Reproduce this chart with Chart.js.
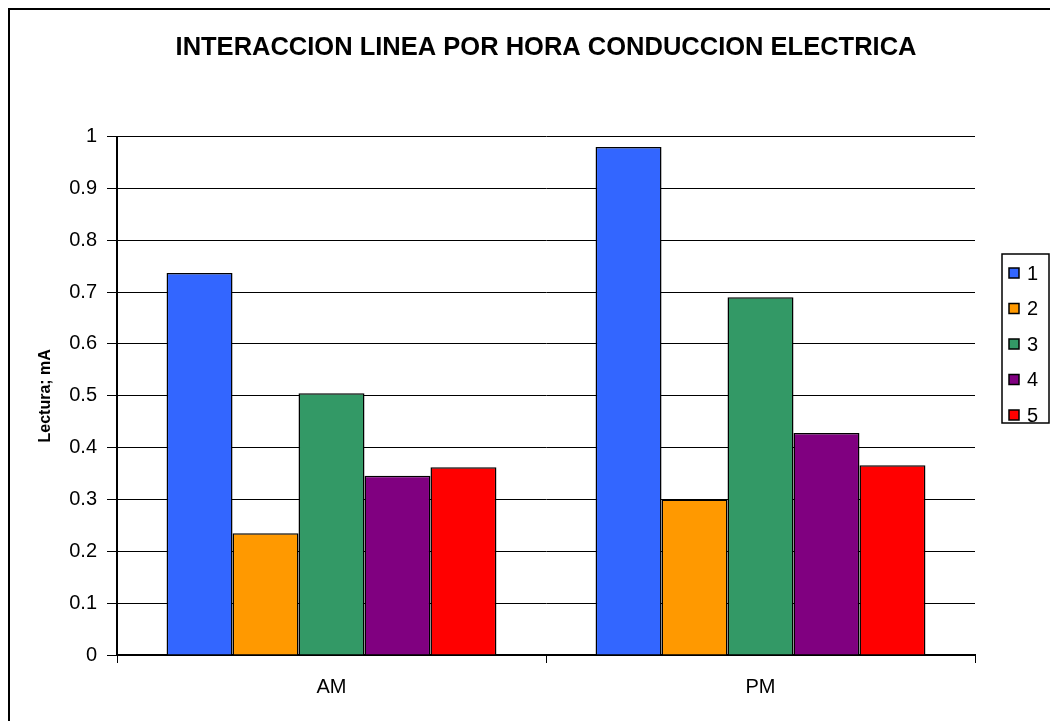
<!DOCTYPE html>
<html>
<head>
<meta charset="utf-8">
<script src="https://cdn.jsdelivr.net/npm/chart.js@4/dist/chart.umd.min.js"></script>
<style>
  html, body { margin: 0; padding: 0; background: #fff; overflow: hidden; }
  #wrap { position: relative; width: 1050px; height: 721px; }
  #frame { position: absolute; left: 8px; top: 8px; width: 1100px; height: 800px; border: 2px solid #000; box-sizing: border-box; }
  canvas { position: absolute; left: 0; top: 0; }
</style>
</head>
<body>
<div id="wrap">
  <div id="frame"></div>
  <canvas id="chart" width="1050" height="721"></canvas>
</div>
<script>
// values
const categories = ['AM', 'PM'];
const seriesNames = ['1', '2', '3', '4', '5'];
const serie1 = [0.737, 0.980];
const serie2 = [0.235, 0.300];
const serie3 = [0.505, 0.690];
const serie4 = [0.346, 0.428];
const serie5 = [0.362, 0.366];
const yTickLabels = ['0', '0.1', '0.2', '0.3', '0.4', '0.5', '0.6', '0.7', '0.8', '0.9', '1'];
const yMin = 0, yMax = 1, yStep = 0.1;

const colors = ['#3366FF', '#FF9900', '#339966', '#800080', '#FF0000'];
const FONT = "'Liberation Sans', Arial, sans-serif";

const allSeries = [serie1, serie2, serie3, serie4, serie5];

// Excel-like boxed legend, drawn on the right
const boxLegend = {
  id: 'boxLegend',
  afterDraw(chart) {
    const ctx = chart.ctx;
    const x0 = 1002, y0 = 254, w = 47, h = 169;
    ctx.save();
    ctx.strokeStyle = '#000';
    ctx.lineWidth = 1.5;
    ctx.strokeRect(x0, y0, w, h);
    ctx.font = '20px ' + FONT;
    ctx.textBaseline = 'middle';
    ctx.textAlign = 'left';
    chart.data.datasets.forEach((ds, i) => {
      const cy = y0 + 19 + i * 35.5;
      ctx.fillStyle = ds.backgroundColor;
      ctx.fillRect(1009, cy - 5, 10, 10);
      ctx.lineWidth = 1.5;
      ctx.strokeRect(1009, cy - 5, 10, 10);
      ctx.fillStyle = '#000';
      ctx.fillText(ds.label, 1027, cy + 1);
    });
    ctx.restore();
  }
};

const chartData = {
  labels: categories,
  datasets: allSeries.map((d, i) => ({
    label: seriesNames[i],
    data: d,
    backgroundColor: colors[i],
    borderColor: '#000',
    borderWidth: 1.5,
    categoryPercentage: 0.769,
    barPercentage: 1
  }))
};

const config = {
  type: 'bar',
  data: chartData,
  options: {
    responsive: false,
    animation: false,
    layout: { padding: { left: 20, right: 75, top: 0, bottom: 0 } },
    plugins: {
      legend: { display: false },
      tooltip: { enabled: false },
      title: {
        display: true,
        text: 'INTERACCION LINEA POR HORA CONDUCCION ELECTRICA',
        fullSize: false,
        color: '#000',
        font: { family: FONT, size: 25.5, weight: 'bold', lineHeight: 1.2 },
        padding: { top: 33, bottom: 73 }
      }
    },
    scales: {
      x: {
        afterFit: s => { s.height = 66; },
        grid: {
          offset: true,
          drawOnChartArea: false,
          drawTicks: true,
          tickLength: 8,
          color: '#000',
          lineWidth: 1
        },
        border: { color: '#000', width: 2 },
        ticks: { color: '#000', font: { family: FONT, size: 20 }, padding: 12 }
      },
      y: {
        min: yMin,
        max: yMax,
        afterFit: s => { s.width = 97; },
        grid: { color: '#000', lineWidth: 1, tickLength: 10 },
        border: { color: '#000', width: 2 },
        ticks: {
          stepSize: yStep,
          color: '#000',
          font: { family: FONT, size: 20 },
          padding: 10,
          callback: (v, i) => yTickLabels[i]
        },
        title: {
          display: true,
          text: 'Lectura; mA',
          color: '#000',
          font: { family: FONT, size: 16, weight: 'bold' },
          padding: { top: 16, bottom: 0 }
        }
      }
    }
  },
  plugins: [boxLegend]
};

new Chart(document.getElementById('chart'), config);
</script>
</body>
</html>
